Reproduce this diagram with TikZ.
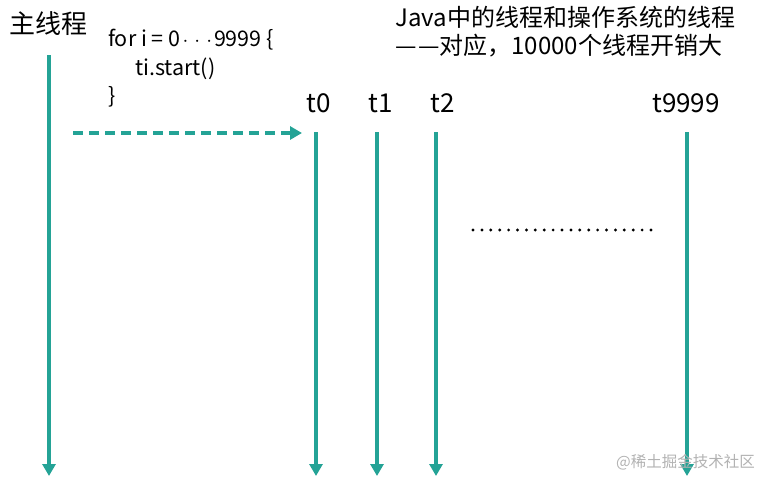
\documentclass[tikz,border=0pt]{standalone}
\usepackage{fontspec}
\setmainfont{Noto Sans CJK SC}
\usetikzlibrary{arrows.meta}
\definecolor{teal1}{RGB}{36,163,150}
\newcommand{\mydots}{\kern2pt$\cdot\kern1.5pt\cdot\kern1.5pt\cdot$\kern2pt}
\begin{document}
\begin{tikzpicture}[x=1pt,y=-1pt,
  line/.style={draw=teal1,line width=3.2pt,-{Triangle[length=12pt,width=13pt]}},
  dline/.style={line,dash pattern=on 10pt off 6pt},
  lbl/.style={inner sep=0pt,anchor=west,font=\fontsize{26}{30}\selectfont},
  code/.style={inner sep=0pt,anchor=north west,align=left,font=\fontsize{21.5}{28.5}\selectfont},
  dot/.style={circle,fill=black,inner sep=0pt,minimum size=3.2pt}]
\useasboundingbox (0,0) rectangle (768,477);
\node[lbl] (main) at (9,24) {主线程};
\node[code] (code) at (108,29) {for i = 0\mydots 9999 \{\\\hspace{1.25em}ti.start()\\\}};
\node[code,font=\fontsize{24}{28}\selectfont] (note) at (395,6) {Java中的线程和操作系统的线程\\—\kern1.5pt—对应，10000个线程开销大};
\node[lbl] (t0) at (306,103) {t0};
\node[lbl] (t1) at (368,103) {t1};
\node[lbl] (t2) at (430,103) {t2};
\node[lbl] (t9999) at (652,103) {t9999};
\coordinate (ms) at (49,55); \coordinate (me) at (49,476);
\draw[line] (ms) -- (me);
\coordinate (ds) at (73,133); \coordinate (de) at (302,133);
\draw[dline] (ds) -- (de);
\foreach \n/\x in {a/316,b/377,c/436,d/687}{
  \coordinate (\n s) at (\x,132); \coordinate (\n e) at (\x,476);
  \draw[line] (\n s) -- (\n e);
}
\foreach \i in {0,...,20}{
  \node[dot] (dot\i) at (473+\i*8.9,230) {};
}
\node[inner sep=0pt,anchor=west,text=black!30,font=\fontsize{15.5}{18}\selectfont] (wm) at (616,462) {@稀土掘金技术社区};
\end{tikzpicture}
\end{document}
